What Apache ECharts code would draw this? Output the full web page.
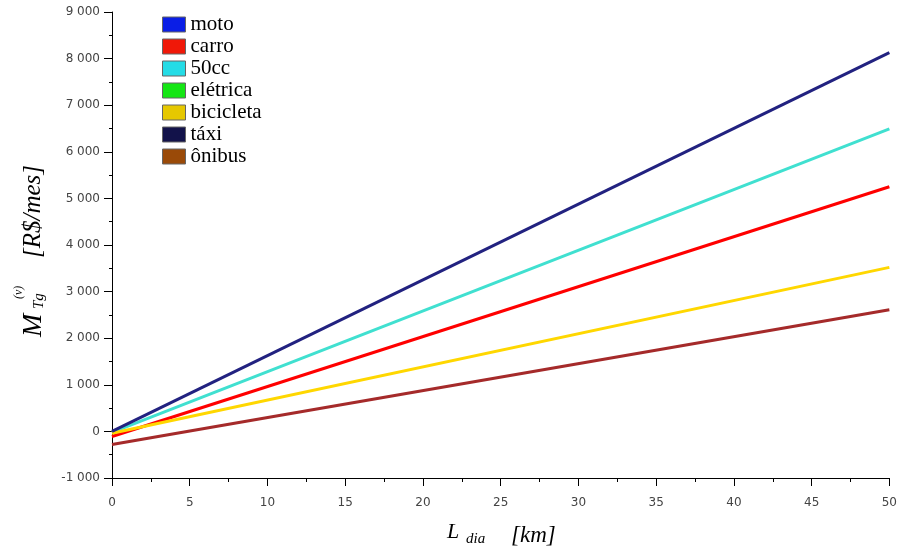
<!DOCTYPE html>
<html>
<head>
<meta charset="utf-8">
<script src="https://cdn.jsdelivr.net/npm/echarts@6/dist/echarts.min.js"></script>
<style>html,body{margin:0;padding:0;background:#fff}#c{width:900px;height:553px}</style>
</head>
<body>
<div id="c"></div>
<script>
// Data
var seriesNames = ['moto', 'carro', '50cc', 'elétrica', 'bicicleta', 'táxi', 'ônibus'];
var legendColors = ['#0a1ee6', '#f01808', '#24dce6', '#14e614', '#e6c800', '#12124a', '#9a4a08'];
var lineColors = ['#0000ff', '#ff0000', '#40e0d0', '#00ff00', '#ffd700', '#222280', '#a52a2a'];
var xKm = [0, 50];
var moto = [];
var carro = [-110, 5250];
var cc50 = [-20, 6490];
var eletrica = [];
var bicicleta = [-40, 3520];
var taxi = [0, 8130];
var onibus = [-280, 2610];
var xTicks = [0, 5, 10, 15, 20, 25, 30, 35, 40, 45, 50];
var yTicks = [-1000, 0, 1000, 2000, 3000, 4000, 5000, 6000, 7000, 8000, 9000];

var values = [moto, carro, cc50, eletrica, bicicleta, taxi, onibus];

function pairs(v) {
  var out = [];
  for (var i = 0; i < v.length; i++) out.push([xKm[i], v[i]]);
  return out;
}
function fmtThousands(v) {
  var s = String(Math.abs(v));
  var r = s.replace(/\B(?=(\d{3})+(?!\d))/g, ' ');
  return (v < 0 ? '-' : '') + r;
}

var chart = echarts.init(document.getElementById('c'), null, {renderer: 'canvas'});
var serif = '"Liberation Serif", "Times New Roman", serif';
var sans = '"DejaVu Sans", sans-serif';

var series = seriesNames.map(function (n, i) {
  return {
    name: n,
    type: 'line',
    data: pairs(values[i]),
    showSymbol: false,
    symbol: 'none',
    lineStyle: {color: lineColors[i], width: 3},
    itemStyle: {color: lineColors[i]},
    animation: false,
    z: 2 + i
  };
});

function t(text, x, y, font, rot) {
  var el = {type: 'text', x: x, y: y, silent: true,
    style: {text: text, font: font, fill: '#000', align: 'left', textAlign: 'left', verticalAlign: 'bottom', textVerticalAlign: 'bottom'}};
  if (rot) el.rotation = Math.PI / 2;
  return el;
}

var option = {
  animation: false,
  backgroundColor: '#ffffff',
  grid: {left: 112, right: 10, top: 12, bottom: 75, containLabel: false},
  legend: {
    orient: 'vertical',
    left: 162,
    top: 14,
    padding: 0,
    icon: 'rect',
    itemWidth: 23,
    itemHeight: 15,
    itemGap: 1,
    textStyle: {fontFamily: serif, fontSize: 21, color: '#000'},
    data: seriesNames.map(function (n, i) {
      return {name: n, itemStyle: {color: legendColors[i], borderColor: '#666', borderWidth: 1}};
    }),
    selectedMode: false
  },
  xAxis: {
    type: 'value',
    min: xTicks[0],
    max: xTicks[xTicks.length - 1],
    interval: 5,
    axisLine: {show: true, onZero: false, lineStyle: {color: '#000', width: 1}},
    axisTick: {show: true, inside: false, length: 8, lineStyle: {color: '#000'}},
    minorTick: {show: true, splitNumber: 2, length: 4, lineStyle: {color: '#000'}},
    splitLine: {show: false},
    axisLabel: {color: '#444', fontFamily: sans, fontSize: 12, margin: 19}
  },
  yAxis: {
    type: 'value',
    min: yTicks[0],
    max: yTicks[yTicks.length - 1],
    interval: 1000,
    axisLine: {show: true, onZero: false, lineStyle: {color: '#000', width: 1}},
    axisTick: {show: true, inside: false, length: 8, lineStyle: {color: '#000'}},
    minorTick: {show: true, splitNumber: 2, length: 3, lineStyle: {color: '#000'}},
    splitLine: {show: false},
    axisLabel: {color: '#444', fontFamily: sans, fontSize: 12, margin: 12, formatter: fmtThousands}
  },
  graphic: [
    // y-axis title: M_{Tg}^{(v)}  [R$/mes]  (rotated)
    t('M', 48, 337, 'italic 28px ' + serif, true),
    t('Tg', 47, 309, 'italic 15px ' + serif, true),
    t('(v)', 25, 299, 'italic 12px ' + serif, true),
    t('[R$/mes]', 46, 258, 'italic 25px ' + serif, true),
    // x-axis title: L_dia  [km]
    t('L', 447, 543, 'italic 22px ' + serif, false),
    t('dia', 466, 547, 'italic 15px ' + serif, false),
    t('[km]', 511, 547, 'italic 23px ' + serif, false)
  ],
  series: series
};
chart.setOption(option);
</script>
</body>
</html>
